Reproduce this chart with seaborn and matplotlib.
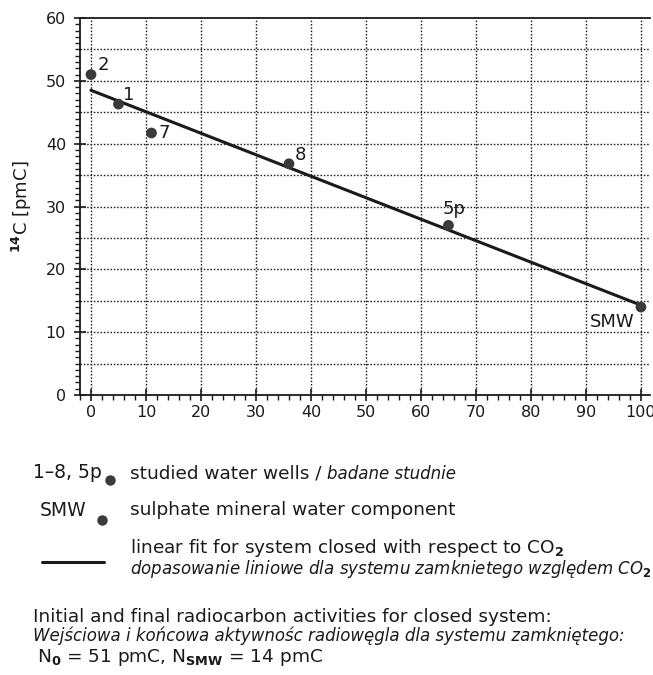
import matplotlib
matplotlib.use("Agg")
import matplotlib.pyplot as plt
import seaborn as sns
import pandas as pd
from matplotlib.lines import Line2D
from matplotlib.ticker import MultipleLocator

# ---- data ----
well_labels = ["2", "1", "7", "8", "5p", "SMW"]
share_x = [0, 5, 11, 36, 65, 100]
c14_pmc = [51, 46.3, 41.7, 36.8, 27, 14]
fit_x = [0, 100]
fit_y = [48.5, 14.3]
x_ticks = [0, 10, 20, 30, 40, 50, 60, 70, 80, 90, 100]
y_ticks = [0, 10, 20, 30, 40, 50, 60]

sns.set_style("ticks")
plt.rcParams['font.family'] = ['DejaVu Sans']
plt.rcParams['mathtext.fontset'] = 'dejavusans'

fig = plt.figure(figsize=(6.53, 6.75), dpi=100)
ax = fig.add_axes([0.1225, 0.4148, 0.8725, 0.5585])

pts = pd.DataFrame({"x": share_x, "y": c14_pmc, "label": well_labels})
fit = pd.DataFrame({"x": fit_x, "y": fit_y})

sns.lineplot(data=fit, x="x", y="y", ax=ax, color="#1a1a1a", linewidth=2.2, zorder=3)
sns.scatterplot(data=pts, x="x", y="y", ax=ax, color="#3a3a3a", s=60,
                edgecolor="none", zorder=4, clip_on=False)

offsets = {"2": (5, 7), "1": (3.2, 6.5), "7": (4.7, 0), "8": (4.3, 6.5), "5p": (-4, 12), "SMW": (-4.3, -10.8)}
has = {"2": "left", "1": "left", "7": "left", "8": "left", "5p": "left", "SMW": "right"}
for lab, x, y in zip(well_labels, share_x, c14_pmc):
    ax.annotate(lab, (x, y), xytext=offsets[lab], textcoords="offset points",
                ha=has[lab], va="center", fontsize=13, color="#1a1a1a")

ax.set_xlim(-2, 101.6)
ax.set_ylim(0, 60)
ax.set_xticks(x_ticks)
ax.set_yticks(y_ticks)
ax.xaxis.set_minor_locator(MultipleLocator(2))
ax.yaxis.set_minor_locator(MultipleLocator(1))
dots = (0, (1.1, 1.3))
for v in x_ticks:
    ax.axvline(v, color="#1e1e1e", linestyle=dots, linewidth=1.0, zorder=1)
for v in range(5, 60, 5):
    ax.axhline(v, color="#1e1e1e", linestyle=dots, linewidth=1.0, zorder=1)

ax.tick_params(axis="both", which="major", direction="inout", length=8, width=1.2,
               labelsize=11.5, colors="#1a1a1a", pad=3)
ax.tick_params(axis="y", which="major", pad=6)
ax.tick_params(axis="both", which="minor", direction="out", length=3.5, width=1.0, colors="#1a1a1a")
ax.spines["right"].set_visible(False)
for s in ["left", "bottom", "top"]:
    ax.spines[s].set_linewidth(1.3)
    ax.spines[s].set_color("#1a1a1a")
ax.set_xlabel("")
ax.set_ylabel(r"$\mathbf{^{14}}$C [pmC]", fontsize=13, color="#1a1a1a")
ax.yaxis.set_label_coords(-0.081, 0.5)

# ---- legend / notes ----
W, H = 653, 675
def fx(px):
    return px / W
def fy(py):
    return 1 - py / H

tc = "#1a1a1a"
REG = 13.3
ITA = 12

fig.text(fx(33), fy(473), "1–8, 5p", fontsize=13.5, va="center", ha="left", color=tc)
fig.add_artist(Line2D([fx(110)], [fy(480)], marker="o", markersize=7.5, color="#3a3a3a",
                      markeredgewidth=0, linestyle="none", transform=fig.transFigure))
t1 = fig.text(fx(130), fy(473), "studied water wells / ", fontsize=REG, va="center", ha="left", color=tc)

fig.text(fx(40), fy(510), "SMW", fontsize=13.5, va="center", ha="left", color=tc)
fig.add_artist(Line2D([fx(102)], [fy(520)], marker="o", markersize=7.5, color="#3a3a3a",
                      markeredgewidth=0, linestyle="none", transform=fig.transFigure))
fig.text(fx(130), fy(510), "sulphate mineral water component", fontsize=REG, va="center", ha="left", color=tc)

fig.add_artist(Line2D([fx(42), fx(104)], [fy(562), fy(562)], color="#1a1a1a", linewidth=2.2,
                      transform=fig.transFigure))
fig.text(fx(130), fy(548), r"linear fit for system closed with respect to CO$_\mathbf{2}$",
         fontsize=REG, va="center", ha="left", color=tc)
fig.text(fx(130), fy(569), r"dopasowanie liniowe dla systemu zamknietego względem CO$_\mathbf{2}$",
         fontsize=ITA, style="italic", va="center", ha="left", color=tc)

fig.text(fx(33), fy(617), "Initial and final radiocarbon activities for closed system:",
         fontsize=REG, va="center", ha="left", color=tc)
fig.text(fx(33), fy(636), "Wejściowa i końcowa aktywnośc radiowęgla dla systemu zamkniętego:",
         fontsize=ITA, style="italic", va="center", ha="left", color=tc)
fig.text(fx(37), fy(657), r"N$_\mathbf{0}$ = 51 pmC, N$_\mathbf{SMW}$ = 14 pmC",
         fontsize=REG, va="center", ha="left", color=tc)

# place italic continuation right after the regular part
r = fig.canvas.get_renderer()
bb = t1.get_window_extent(r)
fig.text(bb.x1 / W, fy(474), "badane studnie", fontsize=ITA, style="italic",
         va="center", ha="left", color=tc)

fig.savefig("out.png", dpi=100)
